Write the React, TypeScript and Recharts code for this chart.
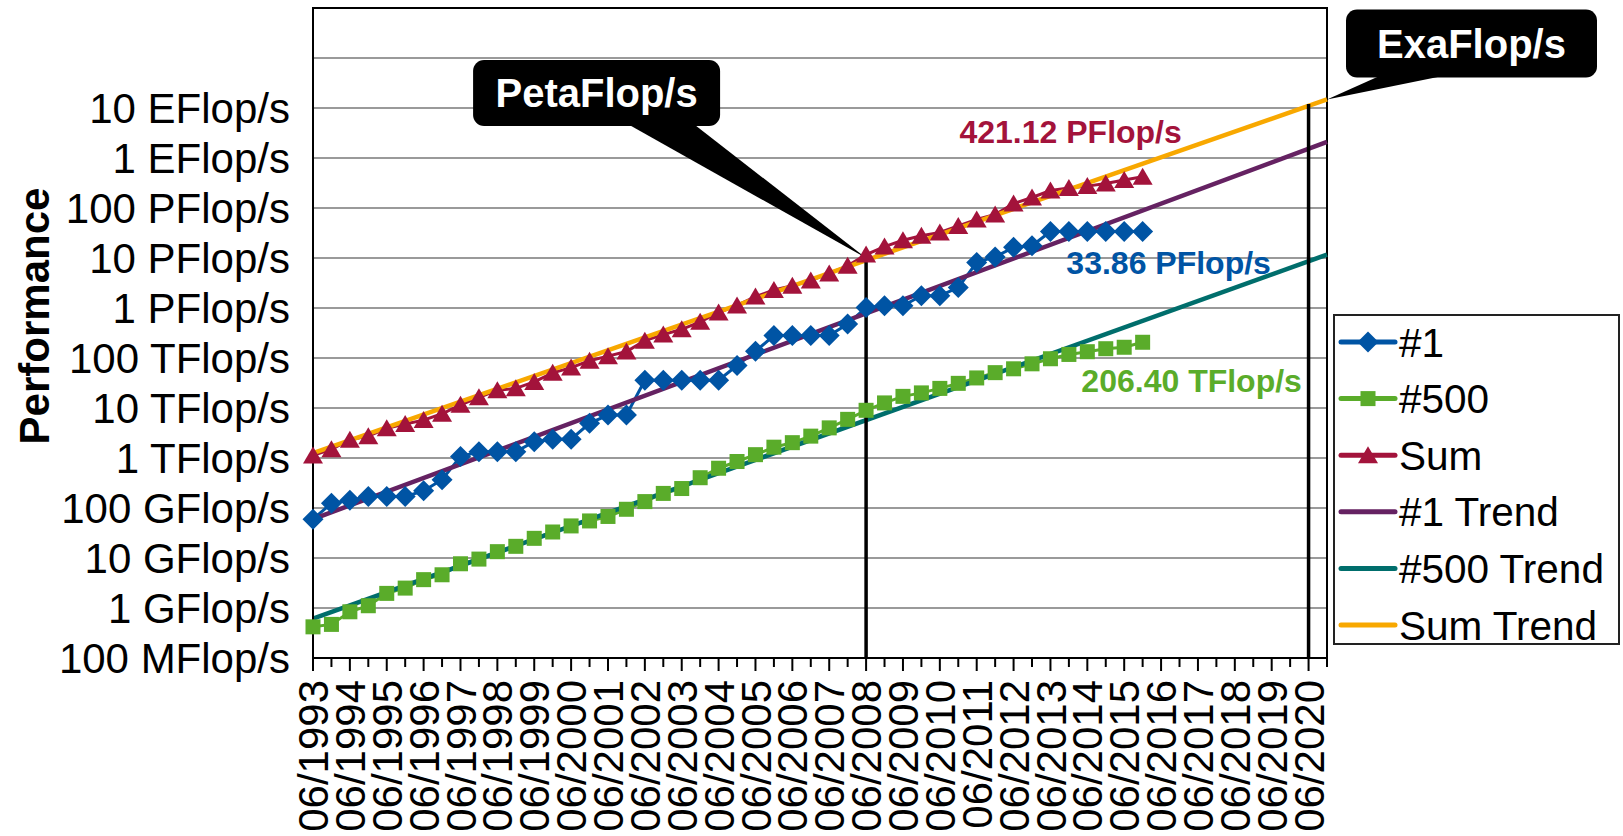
import React from "react";
import {
  CartesianGrid,
  ComposedChart,
  Legend,
  Line,
  ReferenceArea,
  ReferenceDot,
  ReferenceLine,
  XAxis,
  YAxis,
} from "recharts";

const FONT = "'Liberation Sans', Arial, Helvetica, sans-serif";

// half-year list dates, 06/1993 .. 11/2020
const categories = [
  "06/1993", "11/1993", "06/1994", "11/1994", "06/1995", "11/1995", "06/1996", "11/1996",
  "06/1997", "11/1997", "06/1998", "11/1998", "06/1999", "11/1999", "06/2000", "11/2000",
  "06/2001", "11/2001", "06/2002", "11/2002", "06/2003", "11/2003", "06/2004", "11/2004",
  "06/2005", "11/2005", "06/2006", "11/2006", "06/2007", "11/2007", "06/2008", "11/2008",
  "06/2009", "11/2009", "06/2010", "11/2010", "06/2011", "11/2011", "06/2012", "11/2012",
  "06/2013", "11/2013", "06/2014", "11/2014", "06/2015", "11/2015", "06/2016", "11/2016",
  "06/2017", "11/2017", "06/2018", "11/2018", "06/2019", "11/2019", "06/2020", "11/2020",
];

// Rmax in GFlop/s, 06/1993 .. 11/2015
const top1 = [
  59.7, 124, 143.4, 170, 170, 170, 220.4, 368.2, 1068, 1338, 1338, 1338, 2121, 2379, 2379, 4938,
  7226, 7226, 35860, 35860, 35860, 35860, 35860, 70720, 136800, 280600, 280600, 280600, 280600,
  478200, 1026000, 1105000, 1105000, 1759000, 1759000, 2566000, 8162000, 10510000, 16324750,
  17590000, 33862700, 33862700, 33862700, 33862700, 33862700, 33862700,
];
const top500 = [
  0.42, 0.47, 0.84, 1.11, 1.96, 2.5, 3.69, 4.62, 7.67, 9.51, 13.39, 17.12, 24.73, 33.12, 43.82,
  55.1, 67.78, 94.3, 134.3, 195.8, 245.1, 403.4, 624, 850.6, 1166, 1646, 2026, 2737, 4005, 5929,
  8996, 12640, 17090, 20050, 24670, 31120, 39920, 50940, 60820, 76500, 96620, 117830, 133700,
  153380, 164000, 206400,
];
const sum = [
  1128, 1493, 2317, 2732, 3916, 4781, 5730, 7670, 11600, 16400, 22600, 24700, 33300, 50500, 64300,
  88100, 108800, 134500, 222300, 293500, 375000, 528000, 813000, 1127000, 1690000, 2300000,
  2790000, 3540000, 4920000, 6970000, 11700000, 16950000, 22600000, 27950000, 32400000, 43700000,
  58900000, 74200000, 123000000, 162000000, 223000000, 250000000, 274000000, 309000000, 363000000,
  421120000,
];

// trend lines: value at first and last category (GFlop/s)
const top1Trend = [60, 2.1e9];
const top500Trend = [0.61, 1.17e7];
const sumTrend = [1250, 1.48e10];

const yTicks = [0.1, 1, 10, 100, 1e3, 1e4, 1e5, 1e6, 1e7, 1e8, 1e9, 1e10, 1e11, 1e12];
const yTickLabels = [
  "100 MFlop/s", "1 GFlop/s", "10 GFlop/s", "100 GFlop/s", "1 TFlop/s", "10 TFlop/s",
  "100 TFlop/s", "1 PFlop/s", "10 PFlop/s", "100 PFlop/s", "1 EFlop/s", "10 EFlop/s", "", "",
];

const lastLabels = { top1: "33.86 PFlop/s", top500: "206.40 TFlop/s", sum: "421.12 PFlop/s" };

const C = {
  top1: "#0054a4",
  top500: "#5aac2a",
  sum: "#a3133b",
  top1Trend: "#652262",
  top500Trend: "#006e6c",
  sumTrend: "#f8a800",
};

const legendItems = [
  { name: "#1", color: C.top1, marker: "diamond" },
  { name: "#500", color: C.top500, marker: "square" },
  { name: "Sum", color: C.sum, marker: "triangle" },
  { name: "#1 Trend", color: C.top1Trend, marker: "" },
  { name: "#500 Trend", color: C.top500Trend, marker: "" },
  { name: "Sum Trend", color: C.sumTrend, marker: "" },
];

const last = categories.length - 1;
const lastData = sum.length - 1;

const data = categories.map((label, i) => ({
  label,
  top1: top1[i] ?? null,
  top500: top500[i] ?? null,
  sum: sum[i] ?? null,
  top1Trend: i === 0 ? top1Trend[0] : i === last ? top1Trend[1] : null,
  top500Trend: i === 0 ? top500Trend[0] : i === last ? top500Trend[1] : null,
  sumTrend: i === 0 ? sumTrend[0] : i === last ? sumTrend[1] : null,
}));

function Marker({ kind, cx, cy, fill }: { kind: string; cx: number; cy: number; fill: string }) {
  if (kind === "diamond") {
    const r = 10.5;
    return <path d={`M${cx},${cy - r}L${cx + r},${cy}L${cx},${cy + r}L${cx - r},${cy}Z`} fill={fill} />;
  }
  if (kind === "square") {
    return <rect x={cx - 7.5} y={cy - 7.5} width={15} height={15} fill={fill} />;
  }
  if (kind === "triangle") {
    return <path d={`M${cx},${cy - 9}L${cx + 10},${cy + 8}L${cx - 10},${cy + 8}Z`} fill={fill} />;
  }
  return null;
}

const makeDot = (kind: string, fill: string) => (p: any) => {
  if (p.cx == null || p.cy == null || p.value == null) return <g key={`e-${kind}-${p.index}`} />;
  return (
    <g key={`m-${kind}-${p.index}`}>
      <Marker kind={kind} cx={p.cx} cy={p.cy} fill={fill} />
    </g>
  );
};

const makeLabel = (text: string, color: string, dx: number, dy: number) => (p: any) => {
  if (p.index !== lastData) return null;
  return (
    <text
      key="last-label"
      x={p.x + dx}
      y={p.y + dy}
      textAnchor="middle"
      fontSize={32}
      fontWeight="bold"
      fontFamily={FONT}
      fill={color}
    >
      {text}
    </text>
  );
};

function XTick(props: any) {
  const { x, y, payload } = props;
  const major = String(payload.value).startsWith("06");
  return (
    <g>
      <line x1={x} x2={x} y1={y} y2={y + (major ? 13 : 9)} stroke="#000" strokeWidth={2} />
      {major && (
        <text
          transform={`translate(${x},${y + 22}) rotate(-90)`}
          textAnchor="end"
          dy="0.36em"
          fontSize={42}
          fontFamily={FONT}
          fill="#000"
        >
          {payload.value}
        </text>
      )}
    </g>
  );
}

function PetaCallout(p: any) {
  const { cx, cy } = p;
  return (
    <g>
      <path d={`M${cx - 242},${cy - 136}L${cx - 175},${cy - 136}L${cx},${cy}Z`} fill="#000" />
      <rect x={cx - 393} y={cy - 198} width={247} height={66} rx={11} fill="#000" />
      <text
        x={cx - 269.5}
        y={cy - 165}
        dy="0.36em"
        textAnchor="middle"
        fontSize={40}
        fontWeight="bold"
        fontFamily={FONT}
        fill="#fff"
      >
        PetaFlop/s
      </text>
    </g>
  );
}

function ExaCallout(p: any) {
  const { cx, cy } = p;
  return (
    <g>
      <path d={`M${cx + 58},${cy - 26}L${cx + 128},${cy - 26}L${cx},${cy}Z`} fill="#000" />
      <rect x={cx + 19} y={cy - 90} width={251} height={68} rx={11} fill="#000" />
      <text
        x={cx + 144.5}
        y={cy - 56}
        dy="0.36em"
        textAnchor="middle"
        fontSize={40}
        fontWeight="bold"
        fontFamily={FONT}
        fill="#fff"
      >
        ExaFlop/s
      </text>
    </g>
  );
}

function LegendBox() {
  return (
    <svg width={287} height={331} style={{ display: "block", overflow: "visible" }}>
      <rect x={1} y={1} width={285} height={329} fill="#fff" stroke="#222" strokeWidth={2} />
      {legendItems.map((it, i) => {
        const cy = 28 + i * 56.6;
        return (
          <g key={it.name}>
            <line x1={8} x2={62} y1={cy} y2={cy} stroke={it.color} strokeWidth={5} strokeLinecap="round" />
            <Marker kind={it.marker} cx={35} cy={cy} fill={it.color} />
            <text x={66} y={cy} dy="0.36em" fontSize={40.5} fontFamily={FONT} fill="#000">
              {it.name}
            </text>
          </g>
        );
      })}
    </svg>
  );
}

export default function App() {
  return (
    <div style={{ width: 1623, height: 836, background: "#fff" }}>
      <style>{"body{margin:0;background:#fff}"}</style>
      <ComposedChart
        width={1623}
        height={836}
        data={data}
        margin={{ top: 8, right: 296, bottom: 0, left: 0 }}
      >
        <CartesianGrid vertical={false} stroke="#9a9a9a" strokeWidth={2} />
        <XAxis
          dataKey="label"
          interval={0}
          height={178}
          tickSize={0}
          tickMargin={0}
          tickLine={false}
          axisLine={{ stroke: "#000", strokeWidth: 2 }}
          tick={<XTick />}
        />
        <YAxis
          type="number"
          scale="log"
          domain={[0.1, 1e12]}
          ticks={yTicks}
          interval={0}
          allowDataOverflow
          width={313}
          tickSize={0}
          tickMargin={23}
          tickLine={false}
          axisLine={{ stroke: "#000", strokeWidth: 2 }}
          tick={{ fill: "#000", fontSize: 42, fontFamily: FONT }}
          tickFormatter={(v: number) => yTickLabels[yTicks.indexOf(v)] ?? ""}
          label={({ viewBox }: any) => {
            const x = viewBox.x + 34;
            const y = viewBox.y + viewBox.height / 2 - 17;
            return (
              <text
                x={x}
                y={y}
                transform={`rotate(-90, ${x}, ${y})`}
                textAnchor="middle"
                dy="0.36em"
                fontSize={42}
                fontWeight="bold"
                fontFamily={FONT}
                fill="#000"
              >
                Performance
              </text>
            );
          }}
        />
        <ReferenceArea
          x1={categories[0]}
          x2={categories[last]}
          y1={0.1}
          y2={1e12}
          fill="none"
          stroke="#000"
          strokeWidth={2}
        />

        <Line
          dataKey="top1"
          name="#1"
          stroke={C.top1}
          strokeWidth={3}
          dot={makeDot("diamond", C.top1)}
          activeDot={false}
          isAnimationActive={false}
          label={makeLabel(lastLabels.top1, C.top1, 26, 42)}
        />
        <Line
          dataKey="top500"
          name="#500"
          stroke={C.top500}
          strokeWidth={3}
          dot={makeDot("square", C.top500)}
          activeDot={false}
          isAnimationActive={false}
          label={makeLabel(lastLabels.top500, C.top500, 49, 50)}
        />
        <Line
          dataKey="sum"
          name="Sum"
          stroke={C.sum}
          strokeWidth={3}
          dot={makeDot("triangle", C.sum)}
          activeDot={false}
          isAnimationActive={false}
          label={makeLabel(lastLabels.sum, C.sum, -72, -34)}
        />

        <Line
          dataKey="top1Trend"
          name="#1 Trend"
          stroke={C.top1Trend}
          strokeWidth={4.5}
          dot={false}
          activeDot={false}
          connectNulls
          isAnimationActive={false}
        />
        <Line
          dataKey="top500Trend"
          name="#500 Trend"
          stroke={C.top500Trend}
          strokeWidth={4.5}
          dot={false}
          activeDot={false}
          connectNulls
          isAnimationActive={false}
        />
        <Line
          dataKey="sumTrend"
          name="Sum Trend"
          stroke={C.sumTrend}
          strokeWidth={4.5}
          dot={false}
          activeDot={false}
          connectNulls
          isAnimationActive={false}
        />

        <ReferenceLine
          segment={[
            { x: "06/2008", y: 1e7 },
            { x: "06/2008", y: 0.1 },
          ]}
          stroke="#000"
          strokeWidth={3.5}
        />
        <ReferenceLine
          segment={[
            { x: "06/2020", y: 1.2e10 },
            { x: "06/2020", y: 0.1 },
          ]}
          stroke="#000"
          strokeWidth={3.5}
        />
        <ReferenceDot x="06/2008" y={1e7} r={0} shape={(p: any) => <PetaCallout {...p} />} />
        <ReferenceDot
          x={categories[last]}
          y={sumTrend[1]}
          r={0}
          shape={(p: any) => <ExaCallout {...p} />}
        />

        <Legend
          layout="vertical"
          align="center"
          verticalAlign="middle"
          width={287}
          height={331}
          wrapperStyle={{ left: 1333, top: 314, width: 287, height: 331 }}
          content={() => <LegendBox />}
        />
      </ComposedChart>
    </div>
  );
}
